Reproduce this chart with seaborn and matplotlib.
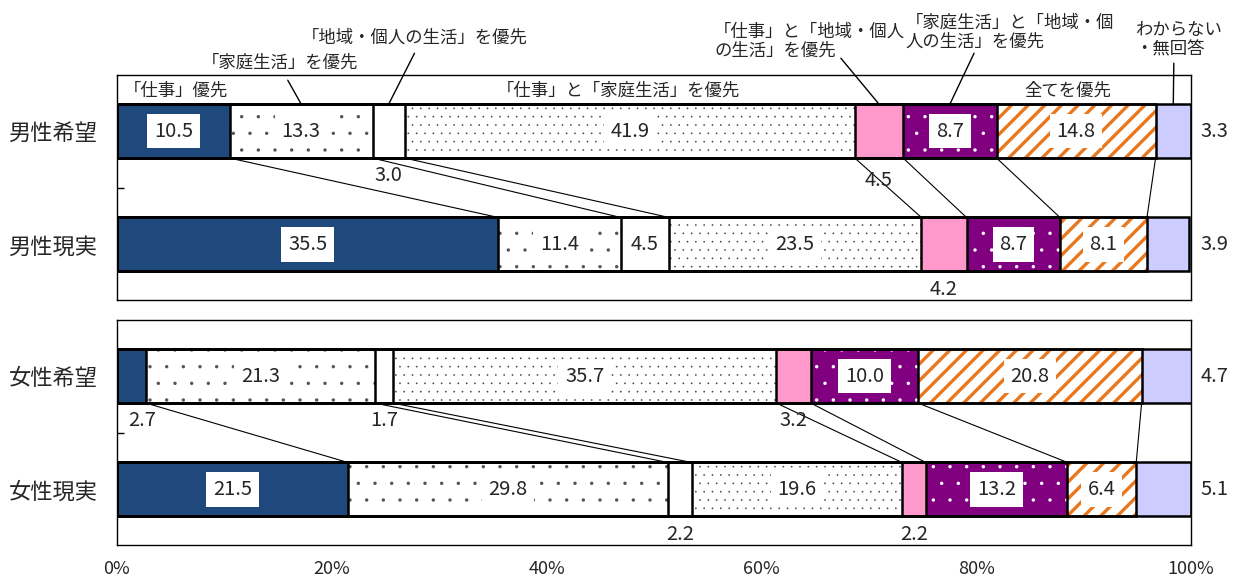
import numpy as np
import pandas as pd
import matplotlib.pyplot as plt
import seaborn as sns

# --- datos (%) ---
filas_hombres = ['男性希望', '男性現実']
filas_mujeres = ['女性希望', '女性現実']

categorias = ['「仕事」優先', '「家庭生活」を優先', '「地域・個人の生活」を優先',
              '「仕事」と「家庭生活」を優先', '「仕事」と「地域・個人\nの生活」を優先',
              '「家庭生活」と「地域・個\n人の生活」を優先', '全てを優先', 'わからない\n・無回答']

hombre_deseo = [10.5, 13.3, 3.0, 41.9, 4.5, 8.7, 14.8, 3.3]
hombre_real = [35.5, 11.4, 4.5, 23.5, 4.2, 8.7, 8.1, 3.9]
mujer_deseo = [2.7, 21.3, 1.7, 35.7, 3.2, 10.0, 20.8, 4.7]
mujer_real = [21.5, 29.8, 2.2, 19.6, 2.2, 13.2, 6.4, 5.1]

ticks_x = [0, 20, 40, 60, 80, 100]
etiquetas_x = ['0%', '20%', '40%', '60%', '80%', '100%']

# --- estilo de cada categoria ---
colores = ['#1F497D', 'white', 'white', 'white', '#FF99CC', '#800080', 'white', '#CCCCFF']
tramas = [None, '.', None, '..', None, '.', '//', None]
color_trama = ['black', '#555555', 'black', '#444444', 'black', 'white', '#E8771E', 'black']

# donde va cada numero: dentro, debajo, a la derecha
pos_hombres = [['in', 'in', 'below', 'in', 'below2', 'in', 'in', 'right'],
               ['in', 'in', 'in', 'in', 'below', 'in', 'in', 'right']]
pos_mujeres = [['below_r', 'in', 'below', 'in', 'below', 'in', 'in', 'right'],
               ['in', 'in', 'below', 'in', 'below', 'in', 'in', 'right']]

sns.set_style('white')
plt.rcParams['font.family'] = ['Noto Sans CJK JP', 'DejaVu Sans']

H = 0.476  # grosor de barra
YLIM = (1.49, -0.495)
FS_NUM = 14.5

fig = plt.figure(figsize=(12.39, 5.85), dpi=100)
ax1 = fig.add_axes([117 / 1239, 1 - 300 / 585, 1074 / 1239, 225 / 585])
ax2 = fig.add_axes([117 / 1239, 1 - 545 / 585, 1074 / 1239, 225 / 585])


def dibujar_panel(ax, filas, datos, posiciones):
    df = pd.DataFrame(datos, index=filas)
    acum = df.cumsum(axis=1)

    # barras apiladas: de la ultima a la primera, cada una desde 0
    for i in reversed(range(8)):
        n = len(ax.patches)
        sns.barplot(x=acum[i].values, y=filas, orient='h', color=colores[i],
                    saturation=1, width=H, errorbar=None, ax=ax)
        for p in ax.patches[n:]:
            p.set_facecolor(colores[i])
            p.set_edgecolor(color_trama[i])
            p.set_linewidth(0)
            if tramas[i]:
                p.set_hatch(tramas[i])
                if hasattr(p, 'set_hatch_linewidth'):
                    p.set_hatch_linewidth(2.4 if '/' in tramas[i] else 0.05)

    # contornos negros
    for i in range(8):
        n = len(ax.patches)
        sns.barplot(x=acum[i].values, y=filas, orient='h', color='black',
                    fill=False, width=H, errorbar=None, ax=ax)
        for p in ax.patches[n:]:
            p.set_facecolor('none')
            p.set_edgecolor('black')
            p.set_linewidth(1.8)
            p.set_hatch(None)

    # lineas de conexion entre las dos barras
    for j in range(7):
        ax.plot([acum.iloc[0, j], acum.iloc[1, j]], [H / 2, 1 - H / 2],
                color='black', lw=0.8, zorder=1)

    # numeros
    for r in range(2):
        for j in range(8):
            v = df.iloc[r, j]
            centro = acum.iloc[r, j] - v / 2
            pos = posiciones[r][j]
            txt = f'{v:.1f}'
            if pos == 'in':
                ax.text(centro, r, txt, ha='center', va='center', fontsize=FS_NUM,
                        bbox=dict(boxstyle='square,pad=0.33', fc='white', ec='none'),
                        zorder=5)
            elif pos == 'right':
                ax.text(102.2, r, txt, ha='center', va='center', fontsize=FS_NUM,
                        clip_on=False)
            else:
                dy = 0.2 if pos == 'below2' else 0.155
                dx = 1.0 if pos == 'below_r' else 0
                ax.text(centro + dx, r + H / 2 + dy, txt, ha='center', va='center',
                        fontsize=FS_NUM, zorder=5)

    ax.set_xlim(0, 100)
    ax.set_ylim(*YLIM)
    ax.set_xlabel('')
    ax.set_ylabel('')
    ax.set_yticks([0, 1])
    ax.set_yticklabels(filas, fontsize=16)
    ax.set_yticks([0.5], minor=True)
    ax.tick_params(axis='y', which='major', length=0, pad=14)
    ax.tick_params(axis='y', which='minor', direction='in', length=5, width=1,
                   color='black', left=True)
    ax.set_xticks(ticks_x)
    ax.tick_params(axis='x', length=0)
    for s in ax.spines.values():
        s.set_color('black')
        s.set_linewidth(1)


dibujar_panel(ax1, filas_hombres, [hombre_deseo, hombre_real], pos_hombres)
dibujar_panel(ax2, filas_mujeres, [mujer_deseo, mujer_real], pos_mujeres)

ax1.set_xticklabels([])
ax2.set_xticklabels(etiquetas_x, fontsize=13)
ax2.tick_params(axis='x', pad=11)

# --- nombres de las categorias sobre el panel de hombres ---
acum0 = np.cumsum(hombre_deseo)
centros0 = acum0 - np.array(hombre_deseo) / 2
top0 = -H / 2
FS_CAT = 12.5

ax1.text(0.65, -0.361, categorias[0], ha='left', va='center', fontsize=FS_CAT)
ax1.text(46.7, -0.361, categorias[3], ha='center', va='center', fontsize=FS_CAT)
ax1.text(88.5, -0.361, categorias[6], ha='center', va='center', fontsize=FS_CAT)

# (texto x, texto y, alineacion, inicio de la linea x, y)
llamadas = {
    1: (15.2, -0.608, 'center', 15.9, -0.449),
    2: (27.7, -0.828, 'center', 27.7, -0.687),
    4: (55.6, -0.793, 'left', 67.4, -0.643),
    5: (73.4, -0.872, 'left', 79.8, -0.687),
    7: (94.8, -0.81, 'left', 98.4, -0.599),
}
for i, (tx, ty, ha, lx, ly) in llamadas.items():
    ax1.text(tx, ty, categorias[i], ha=ha, va='center', fontsize=FS_CAT,
             linespacing=1.1, clip_on=False)
    ax1.plot([lx, centros0[i]], [ly, top0], color='black', lw=1, clip_on=False)

fig.savefig('out.png', dpi=100)
